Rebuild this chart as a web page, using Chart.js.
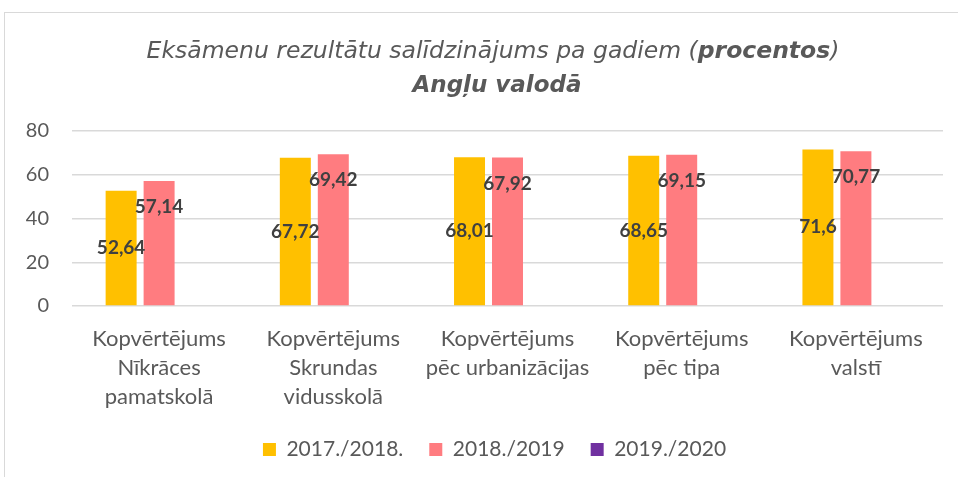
<!DOCTYPE html>
<html lang="lv">
<head>
<meta charset="UTF-8">
<title>Eksāmenu rezultātu salīdzinājums</title>
<script src="https://cdn.jsdelivr.net/npm/chart.js@4.4.1/dist/chart.umd.min.js"></script>
<style>
  html, body { margin: 0; padding: 0; background: #fff; overflow: hidden; }
  #frame { position: absolute; left: 4px; top: 12px; width: 1100px; height: 600px; border: 1px solid #d9d9d9; }
  #wrap { position: absolute; left: 0; top: 0; width: 958px; height: 477px; }
</style>
</head>
<body>
<div id="frame"></div>
<div id="wrap"><canvas id="chart" width="958" height="477"></canvas></div>
<script>
// data
var categories = [
  ['Kopvērtējums', 'Nīkrāces', 'pamatskolā'],
  ['Kopvērtējums', 'Skrundas', 'vidusskolā'],
  ['Kopvērtējums', 'pēc urbanizācijas'],
  ['Kopvērtējums', 'pēc tipa'],
  ['Kopvērtējums', 'valstī']
];
var years = ['2017./2018.', '2018./2019', '2019./2020'];
var values1718 = [52.64, 67.72, 68.01, 68.65, 71.6];
var values1819 = [57.14, 69.42, 67.92, 69.15, 70.77];
var values1920 = [null, null, null, null, null];
var yTicks = [0, 20, 40, 60, 80];

var titleLine1 = ['Eksāmenu rezultātu salīdzinājums pa gadiem (', 'procentos', ')'];
var titleLine2 = 'Angļu valodā';

var grey = '#595959';

// title with mixed weights
var titlePlugin = {
  id: 'mixedTitle',
  afterLayout: function(chart) {
    // the legend is centred on the whole chart object, which is wider than the window
    chart.legend.left += 46;
  },
  afterDraw: function(chart) {
    var ctx = chart.ctx;
    ctx.save();
    ctx.fillStyle = grey;
    ctx.textBaseline = 'alphabetic';
    ctx.textAlign = 'left';
    var fonts = ['italic 23.5px "DejaVu Sans"', 'italic bold 23.5px "DejaVu Sans"', 'italic 23.5px "DejaVu Sans"'];
    var total = 0, widths = [];
    titleLine1.forEach(function(t, i) {
      ctx.font = fonts[i];
      widths[i] = ctx.measureText(t).width;
      total += widths[i];
    });
    var x = 493 - total / 2;
    titleLine1.forEach(function(t, i) {
      ctx.font = fonts[i];
      ctx.fillText(t, x, 58);
      x += widths[i];
    });
    ctx.font = 'italic bold 23px "DejaVu Sans"';
    ctx.textAlign = 'center';
    ctx.fillText(titleLine2, 497, 92);
    ctx.restore();
  }
};

// value labels: first series in the middle of the bar, second inside the top
var labelPlugin = {
  id: 'valueLabels',
  afterDatasetsDraw: function(chart) {
    var ctx = chart.ctx;
    ctx.save();
    ctx.font = 'bold 19px Lato';
    ctx.fillStyle = '#404040';
    ctx.textAlign = 'center';
    ctx.textBaseline = 'middle';
    chart.data.datasets.forEach(function(ds, di) {
      var meta = chart.getDatasetMeta(di);
      meta.data.forEach(function(bar, i) {
        var v = ds.data[i];
        if (v === null || v === undefined) return;
        var txt = String(v).replace('.', ',');
        var y = di === 0 ? (bar.y + bar.base) / 2 : bar.y + 26;
        ctx.fillText(txt, bar.x, y);
      });
    });
    ctx.restore();
  }
};

var ctx = document.getElementById('chart').getContext('2d');
var chart = new Chart(ctx, {
  type: 'bar',
  data: {
    labels: categories,
    datasets: [
      { label: years[0], data: values1718, backgroundColor: '#FFC000' },
      { label: years[1], data: values1819, backgroundColor: '#FF7C80' },
      { label: years[2], data: values1920, backgroundColor: '#7030A0' }
    ]
  },
  options: {
    responsive: false,
    animation: false,
    events: [],
    categoryPercentage: 0.654,
    barPercentage: 0.816,
    layout: { padding: { top: 131, left: 0, right: 15, bottom: 14 } },
    scales: {
      x: {
        grid: { display: false },
        border: { display: false },
        ticks: {
          color: grey,
          font: { family: 'Lato', size: 22, lineHeight: '29px' },
          padding: 10,
          maxRotation: 0,
          autoSkip: false
        },
        afterFit: function(scale) { scale.height = 107; }
      },
      y: {
        min: 0,
        max: 80,
        afterBuildTicks: function(scale) {
          scale.ticks = yTicks.map(function(v) { return { value: v }; });
        },
        grid: { color: '#d9d9d9', lineWidth: 1.5, drawTicks: false },
        border: { display: false },
        ticks: {
          color: grey,
          font: { family: 'Lato', size: 20 },
          padding: 23
        },
        afterFit: function(scale) { scale.width = 72; }
      }
    },
    plugins: {
      title: { display: false },
      tooltip: { enabled: false },
      legend: {
        position: 'bottom',
        maxHeight: 50,
        labels: {
          boxWidth: 13,
          boxHeight: 13,
          padding: 26,
          color: grey,
          font: { family: 'Lato', size: 21 }
        }
      }
    }
  },
  plugins: [titlePlugin, labelPlugin]
});
</script>
</body>
</html>
